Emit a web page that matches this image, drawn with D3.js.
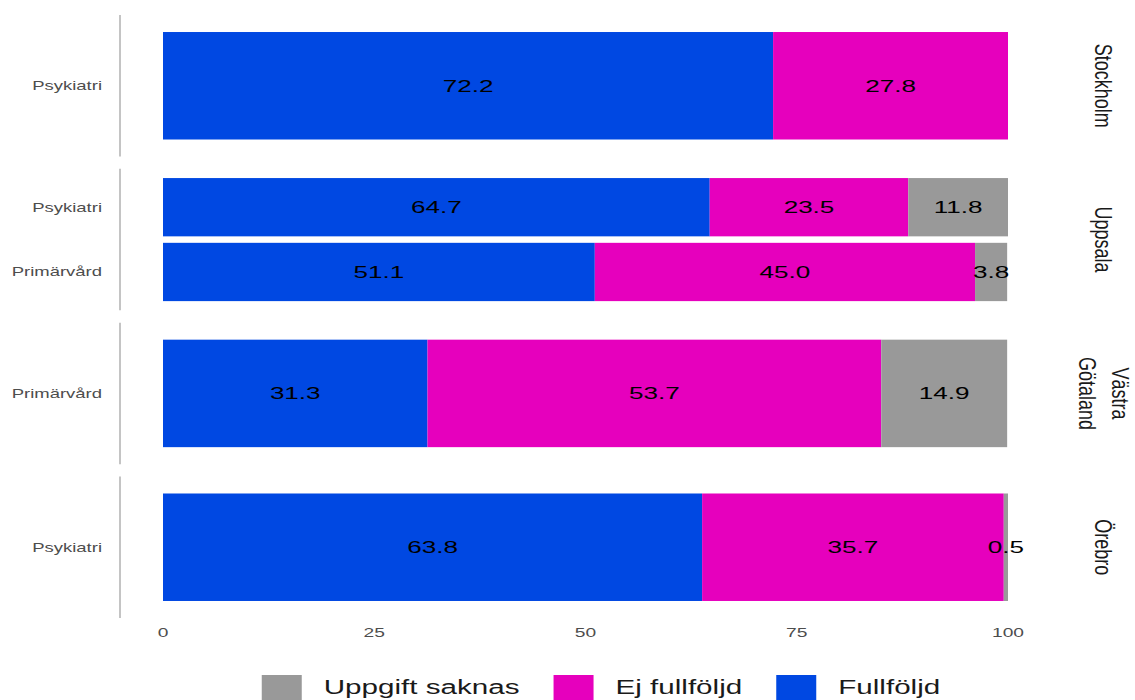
<!DOCTYPE html>
<html>
<head>
<meta charset="utf-8">
<script src="https://cdn.jsdelivr.net/npm/d3@7"></script>
<style>
  html, body { margin: 0; padding: 0; background: #ffffff; }
  svg { display: block; font-family: "Liberation Sans", Arial, Helvetica, sans-serif; }
</style>
</head>
<body>
<svg id="chart" width="1135" height="700"></svg>
<script>
// Regions (facet rows) and the care units within each one
const regions = ["Stockholm", "Uppsala", "Västra Götaland", "Örebro"];
const regionStrip = [["Stockholm"], ["Uppsala"], ["Västra", "Götaland"], ["Örebro"]];
const rowRegion = ["Stockholm", "Uppsala", "Uppsala", "Västra Götaland", "Örebro"];
const rowUnit = ["Psykiatri", "Psykiatri", "Primärvård", "Primärvård", "Psykiatri"];

// Share of patients (%) per outcome, one value per row
const fullfoljd = [72.2, 64.7, 51.1, 31.3, 63.8];
const ejFullfoljd = [27.8, 23.5, 45.0, 53.7, 35.7];
const uppgiftSaknas = [0, 11.8, 3.8, 14.9, 0.5];

// Stacking order (left to right) and legend order
const seriesNames = ["Fullföljd", "Ej fullföljd", "Uppgift saknas"];
const seriesColors = ["#0048e2", "#e600bd", "#999999"];
const legendOrder = ["Uppgift saknas", "Ej fullföljd", "Fullföljd"];

const xTicks = [0, 25, 50, 75, 100];

// Legend text is drawn wider than its height
const STRETCH = 1.48;

const svg = d3.select("#chart");

const rows = rowUnit.map((u, i) => ({
  region: rowRegion[i],
  unit: u,
  "Fullföljd": fullfoljd[i],
  "Ej fullföljd": ejFullfoljd[i],
  "Uppgift saknas": uppgiftSaknas[i]
}));

const x = d3.scaleLinear().domain([0, 100]).range([163, 1008]);
const panel = d3.scaleBand().domain(regions).range([15, 618]).paddingInner(0.08);
const color = d3.scaleOrdinal().domain(seriesNames).range(seriesColors);
const stack = d3.stack().keys(seriesNames);
const fmt = d3.format(".1f");

regions.forEach((reg, ri) => {
  const top = panel(reg);
  const h = panel.bandwidth();
  const pRows = rows.filter(r => r.region === reg);
  const y = d3.scaleBand()
    .domain(pRows.map(r => r.unit))
    .range([top, top + h])
    .paddingInner(0.1)
    .paddingOuter(0.1425);

  const g = svg.append("g").attr("class", "panel");

  // left axis line
  g.append("line")
    .attr("x1", 120).attr("x2", 120)
    .attr("y1", top).attr("y2", top + h)
    .attr("stroke", "#c4c4c4").attr("stroke-width", 2);

  // category labels
  g.selectAll("text.cat").data(pRows).enter().append("text")
    .attr("class", "cat")
    .attr("transform", d => `translate(102,${y(d.unit) + y.bandwidth() / 2}) scale(1.48,1)`)
    .attr("text-anchor", "end")
    .attr("dy", "0.36em")
    .attr("font-size", 12.5)
    .attr("fill", "#4d4d4d")
    .text(d => d.unit);

  const stacked = stack(pRows);
  stacked.forEach(layer => {
    const key = layer.key;
    g.selectAll(null).data(layer).enter().append("rect")
      .attr("x", d => x(d[0]))
      .attr("width", d => x(d[1]) - x(d[0]))
      .attr("y", d => y(d.data.unit))
      .attr("height", y.bandwidth())
      .attr("fill", color(key));

    g.selectAll(null).data(layer.filter(d => d.data[key] > 0)).enter().append("text")
      .attr("transform", d => `translate(${x((d[0] + d[1]) / 2)},${y(d.data.unit) + y.bandwidth() / 2}) scale(1.58,1)`)
      .attr("text-anchor", "middle")
      .attr("dy", "0.36em")
      .attr("font-size", 16.5)
      .attr("fill", "#000000")
      .text(d => fmt(d.data[key]));
  });

  // facet strip label on the right
  const lines = regionStrip[ri];
  const cy = top + h / 2;
  const strip = g.append("text")
    .attr("transform", `translate(1104,${cy}) scale(1.35,1) rotate(90)`)
    .attr("text-anchor", "middle")
    .attr("font-size", 18)
    .attr("fill", "#1a1a1a");
  lines.forEach((ln, li) => {
    const off = (li - (lines.length - 1) / 2) * 1.36 + 0.35;
    strip.append("tspan").attr("x", 0).attr("y", 0).attr("dy", off + "em").text(ln);
  });
});

// x axis tick labels
svg.append("g").selectAll("text").data(xTicks).enter().append("text")
  .attr("transform", d => `translate(${x(d)},633) scale(1.6,1)`)
  .attr("text-anchor", "middle")
  .attr("dy", "0.36em")
  .attr("font-size", 12)
  .attr("fill", "#4d4d4d")
  .text(d => d);

// legend
const legend = svg.append("g").attr("class", "legend");
const keyW = 40, keyH = 28, keyGap = 22, itemGap = 34;
const items = legend.selectAll("g").data(legendOrder).enter().append("g");
items.append("rect")
  .attr("width", keyW).attr("height", keyH)
  .attr("y", 675)
  .attr("fill", d => color(d));
const labels = items.append("text")
  .attr("font-size", 20)
  .attr("fill", "#1a1a1a")
  .text(d => d);
const widths = [];
labels.each(function () { widths.push(this.getComputedTextLength() * STRETCH); });
const total = d3.sum(widths) + legendOrder.length * (keyW + keyGap) + (legendOrder.length - 1) * itemGap;
let cursor = 601 - total / 2;
items.each(function (d, i) {
  const item = d3.select(this);
  item.select("rect").attr("x", cursor);
  item.select("text").attr("transform", `translate(${cursor + keyW + keyGap},694) scale(${STRETCH},1)`);
  cursor += keyW + keyGap + widths[i] + itemGap;
});
</script>
</body>
</html>
